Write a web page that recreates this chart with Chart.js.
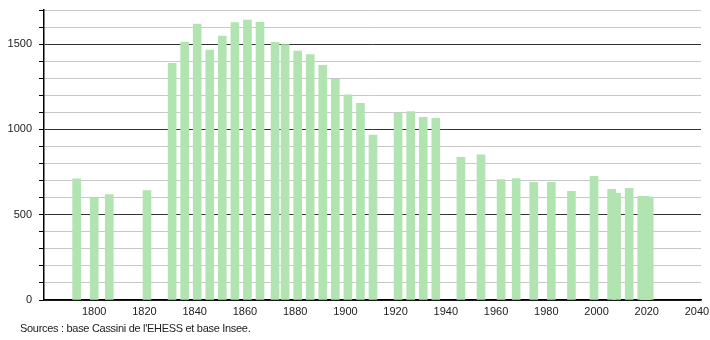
<!DOCTYPE html>
<html>
<head>
<meta charset="utf-8">
<script src="https://cdn.jsdelivr.net/npm/chart.js@4.4.1/dist/chart.umd.min.js"></script>
<style>
  html, body { margin: 0; padding: 0; background: #fff; }
  #wrap { position: relative; width: 710px; height: 340px; }
  #source { position: absolute; left: 20px; top: 322px; font: 11px "Liberation Sans", Arial, sans-serif; color: #222; letter-spacing: -0.3px; }
</style>
</head>
<body>
<div id="wrap">
  <canvas id="canvas" width="710" height="340"></canvas>
  <div id="source">Sources : base Cassini de l'EHESS et base Insee.</div>
</div>
<script>
  // recensements
  var years = [1793, 1800, 1806, 1821, 1831, 1836, 1841, 1846, 1851, 1856,
               1861, 1866, 1872, 1876, 1881, 1886, 1891, 1896, 1901, 1906,
               1911, 1921, 1926, 1931, 1936, 1946, 1954, 1962, 1968, 1975,
               1982, 1990, 1999, 2006, 2008, 2013, 2018, 2019, 2020, 2021];
  var population = [710, 598, 618, 641, 1388, 1512, 1618, 1465, 1547, 1626,
                    1641, 1627, 1510, 1498, 1459, 1439, 1376, 1294, 1202, 1153,
                    967, 1096, 1104, 1071, 1065, 837, 851, 706, 712, 690,
                    690, 637, 725, 649, 625, 655, 608, 606, 605, 604];
  var xTicks = [1800, 1820, 1840, 1860, 1880, 1900, 1920, 1940, 1960, 1980, 2000, 2020, 2040];
  var yLabels = [0, 500, 1000, 1500];

  var points = years.map(function(y, i) { return { x: y, y: population[i] }; });

  var font = { family: '"Liberation Sans", Arial, sans-serif', size: 11 };

  new Chart(document.getElementById('canvas').getContext('2d'), {
    type: 'bar',
    data: {
      datasets: [{
        label: 'Population',
        data: points,
        backgroundColor: 'rgb(178, 228, 178)',
        borderWidth: 0,
        barThickness: 8
      }]
    },
    options: {
      responsive: false,
      animation: false,
      layout: { padding: { left: 0, right: 9, top: 10, bottom: 0 } },
      plugins: { legend: { display: false }, tooltip: { enabled: false } },
      scales: {
        x: {
          type: 'linear',
          min: 1780,
          max: 2041.6,
          offset: false,
          afterFit: function(s) { s.height = 40; s.paddingLeft = 0; s.paddingRight = 0; },
          afterBuildTicks: function(s) {
            s.ticks = xTicks.map(function(v) { return { value: v }; });
          },
          grid: { display: false, drawTicks: false },
          border: { color: '#000', width: 1.5 },
          ticks: { font: font, color: '#222', padding: 5, maxRotation: 0, autoSkip: false,
                   callback: function(v) { return String(v); } }
        },
        y: {
          min: 0,
          max: 1700,
          afterFit: function(s) { s.width = 44; s.paddingTop = 0; s.paddingBottom = 0; },
          grid: {
            color: function(c) { return c.tick && c.tick.value % 500 === 0 ? '#333' : '#c8c8c8'; },
            tickColor: '#000',
            tickLength: 5,
            lineWidth: 1
          },
          border: { color: '#000', width: 1.5 },
          ticks: {
            stepSize: 100,
            font: font,
            color: '#222',
            padding: 7,
            autoSkip: false,
            callback: function(v) { return yLabels.indexOf(v) >= 0 ? String(v) : ''; }
          }
        }
      }
    }
  });
</script>
</body>
</html>
